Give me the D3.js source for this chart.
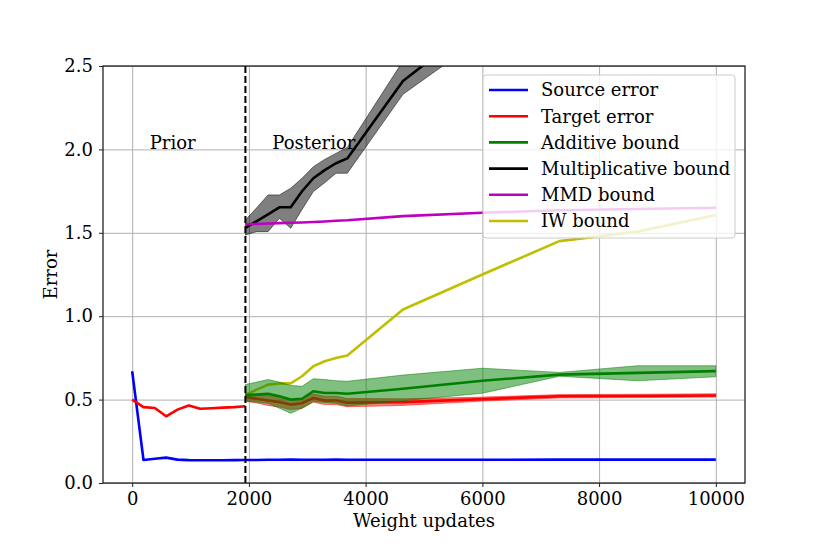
<!DOCTYPE html>
<html>
<head>
<meta charset="utf-8">
<script src="https://cdn.jsdelivr.net/npm/d3@7"></script>
<style>
  body { margin: 0; background: #fff; }
  svg { font-family: "DejaVu Serif", serif; }
</style>
</head>
<body>
<svg width="828" height="552"></svg>
<script>
// steps before / after the switch to the posterior
var priorSteps = [0, 194, 388, 582, 776, 970, 1164, 1358, 1552, 1746, 1940]
var postSteps = [1940, 2134, 2328, 2522, 2716, 2910, 3104, 3298, 3492, 3686, 4640, 6000, 7320, 8660, 10000]

var sourcePrior = [0.67, 0.138, 0.145, 0.152, 0.14, 0.137, 0.136, 0.136, 0.136, 0.137, 0.138]
var targetPrior = [0.50, 0.455, 0.45, 0.40, 0.44, 0.465, 0.445, 0.448, 0.452, 0.455, 0.46]

var sourcePost = [0.138, 0.138, 0.139, 0.139, 0.14, 0.139, 0.139, 0.139, 0.14, 0.139, 0.139, 0.139, 0.14, 0.14, 0.14]
var targetPost = [0.515, 0.505, 0.495, 0.485, 0.47, 0.478, 0.51, 0.495, 0.495, 0.482, 0.485, 0.503, 0.52, 0.522, 0.525]
var targetLo = [0.49, 0.48, 0.465, 0.455, 0.44, 0.448, 0.485, 0.47, 0.47, 0.457, 0.465, 0.491, 0.51, 0.512, 0.515]
var targetHi = [0.54, 0.53, 0.525, 0.515, 0.50, 0.508, 0.535, 0.52, 0.52, 0.507, 0.505, 0.515, 0.53, 0.532, 0.535]

var additive = [0.525, 0.53, 0.535, 0.52, 0.50, 0.505, 0.55, 0.54, 0.54, 0.535, 0.565, 0.613, 0.65, 0.66, 0.671]
var additiveLo = [0.49, 0.485, 0.478, 0.448, 0.418, 0.448, 0.488, 0.483, 0.478, 0.462, 0.493, 0.538, 0.64, 0.613, 0.637]
var additiveHi = [0.59, 0.605, 0.62, 0.605, 0.585, 0.58, 0.625, 0.62, 0.613, 0.61, 0.647, 0.688, 0.663, 0.703, 0.703]

var multiplicative = [1.53, 1.57, 1.61, 1.653, 1.653, 1.749, 1.827, 1.876, 1.917, 1.946, 2.41, 2.78, 3.1, 3.4, 3.7]
var multLo = [1.487, 1.507, 1.507, 1.587, 1.527, 1.64, 1.747, 1.80, 1.857, 1.857, 2.33, 2.67, 3.0, 3.3, 3.6]
var multHi = [1.577, 1.65, 1.727, 1.727, 1.767, 1.827, 1.896, 1.94, 1.976, 2.012, 2.53, 2.90, 3.2, 3.5, 3.8]

var mmd = [1.551, 1.553, 1.556, 1.558, 1.56, 1.562, 1.565, 1.568, 1.572, 1.575, 1.60, 1.62, 1.635, 1.643, 1.65]
var iw = [0.527, 0.56, 0.59, 0.597, 0.597, 0.64, 0.70, 0.73, 0.75, 0.765, 1.04, 1.25, 1.45, 1.507, 1.607]

var switchStep = 1940
var xTicks = [0, 2000, 4000, 6000, 8000, 10000]
var yTicks = [0, 0.5, 1.0, 1.5, 2.0, 2.5]
var legendLabels = ["Source error", "Target error", "Additive bound", "Multiplicative bound", "MMD bound", "IW bound"]
var legendColors = ["#0000ff", "#ff0000", "#008000", "#000000", "#bf00bf", "#bfbf00"]

var svg = d3.select("svg")
var pL = 103, pR = 745, pT = 66, pB = 483

var x = d3.scaleLinear().domain([-500, 10500]).range([pL, pR])
var y = d3.scaleLinear().domain([0, 2.5]).range([pB, pT])

svg.append("defs").append("clipPath").attr("id", "plotclip")
    .append("rect")
    .attr("x", pL).attr("y", pT)
    .attr("width", pR - pL).attr("height", pB - pT)

// grid
svg.append("g")
    .attr("transform", "translate(0," + pB + ")")
    .call(d3.axisBottom(x).tickValues(xTicks).tickSize(-(pB - pT)).tickFormat(""))
    .call(function (g) {
        g.select(".domain").remove()
        g.selectAll("line").attr("stroke", "#b0b0b0").attr("stroke-width", 1)
    })
svg.append("g")
    .attr("transform", "translate(" + pL + ",0)")
    .call(d3.axisLeft(y).tickValues(yTicks).tickSize(-(pR - pL)).tickFormat(""))
    .call(function (g) {
        g.select(".domain").remove()
        g.selectAll("line").attr("stroke", "#b0b0b0").attr("stroke-width", 1)
    })

var plot = svg.append("g").attr("clip-path", "url(#plotclip)")

function line(steps, vals) {
    return d3.line()
        .x(function (d, i) { return x(steps[i]) })
        .y(function (d) { return y(d) })(vals)
}

function band(steps, lo, hi) {
    return d3.area()
        .x(function (d, i) { return x(steps[i]) })
        .y0(function (d, i) { return y(lo[i]) })
        .y1(function (d, i) { return y(hi[i]) })(lo)
}

function drawLine(steps, vals, color) {
    plot.append("path")
        .attr("d", line(steps, vals))
        .attr("fill", "none")
        .attr("stroke", color)
        .attr("stroke-width", 2.6)
        .attr("stroke-linejoin", "round")
}

function drawBand(steps, lo, hi, color) {
    plot.append("path")
        .attr("d", band(steps, lo, hi))
        .attr("fill", color)
        .attr("fill-opacity", 0.5)
        .attr("stroke", color)
        .attr("stroke-opacity", 0.5)
        .attr("stroke-width", 1)
}

drawLine(priorSteps, sourcePrior, legendColors[0])
drawLine(postSteps, sourcePost, legendColors[0])
drawLine(priorSteps, targetPrior, legendColors[1])
drawLine(postSteps, targetPost, legendColors[1])
drawLine(postSteps, iw, legendColors[5])
drawBand(postSteps, targetLo, targetHi, legendColors[1])
drawBand(postSteps, additiveLo, additiveHi, legendColors[2])
drawLine(postSteps, additive, legendColors[2])
drawBand(postSteps, multLo, multHi, "#000000")
drawLine(postSteps, multiplicative, legendColors[3])
drawLine(postSteps, mmd, legendColors[4])

// prior / posterior split
svg.append("line")
    .attr("x1", x(switchStep)).attr("x2", x(switchStep))
    .attr("y1", pT).attr("y2", pB)
    .attr("stroke", "#000")
    .attr("stroke-width", 2)
    .attr("stroke-dasharray", "7,3")

svg.append("text")
    .attr("x", x(300)).attr("y", y(2.0))
    .attr("font-size", 18)
    .text("Prior")
svg.append("text")
    .attr("x", x(2400)).attr("y", y(2.0))
    .attr("font-size", 18)
    .text("Posterior")

// axes
svg.append("g")
    .attr("transform", "translate(0," + pB + ")")
    .call(d3.axisBottom(x).tickValues(xTicks).tickFormat(d3.format("d")).tickSize(4).tickPadding(5))
svg.append("g")
    .attr("transform", "translate(" + pL + ",0)")
    .call(d3.axisLeft(y).tickValues(yTicks).tickFormat(d3.format(".1f")).tickSize(4).tickPadding(6))
svg.selectAll(".tick text")
    .attr("font-family", "DejaVu Serif")
    .attr("font-size", 18)
    .attr("fill", "#000")
svg.selectAll(".domain").remove()
svg.selectAll(".tick line").filter(function () { return +d3.select(this).attr("x2") === -4 || +d3.select(this).attr("y2") === 4 })
    .attr("stroke", "#222")

svg.append("rect")
    .attr("x", pL).attr("y", pT)
    .attr("width", pR - pL).attr("height", pB - pT)
    .attr("fill", "none")
    .attr("stroke", "#222")
    .attr("stroke-width", 1.3)

svg.append("text")
    .attr("x", (pL + pR) / 2).attr("y", 527)
    .attr("text-anchor", "middle")
    .attr("font-size", 18)
    .text("Weight updates")
svg.append("text")
    .attr("transform", "translate(57," + (pT + pB) / 2 + ") rotate(-90)")
    .attr("text-anchor", "middle")
    .attr("font-size", 18)
    .text("Error")

// legend
var legend = svg.append("g").attr("transform", "translate(483,75)")
legend.append("rect")
    .attr("width", 252).attr("height", 163)
    .attr("rx", 3)
    .attr("fill", "#fff").attr("fill-opacity", 0.8)
    .attr("stroke", "#cccccc").attr("stroke-width", 1)
var item = legend.selectAll("g.item")
    .data(legendLabels)
    .enter().append("g")
    .attr("class", "item")
    .attr("transform", function (d, i) { return "translate(0," + (15 + i * 26.2) + ")" })
item.append("line")
    .attr("x1", 6).attr("x2", 45)
    .attr("stroke", function (d, i) { return legendColors[i] })
    .attr("stroke-width", 2.6)
item.append("text")
    .attr("x", 58).attr("dy", "0.35em")
    .attr("font-size", 18)
    .text(function (d) { return d })
</script>
</body>
</html>
